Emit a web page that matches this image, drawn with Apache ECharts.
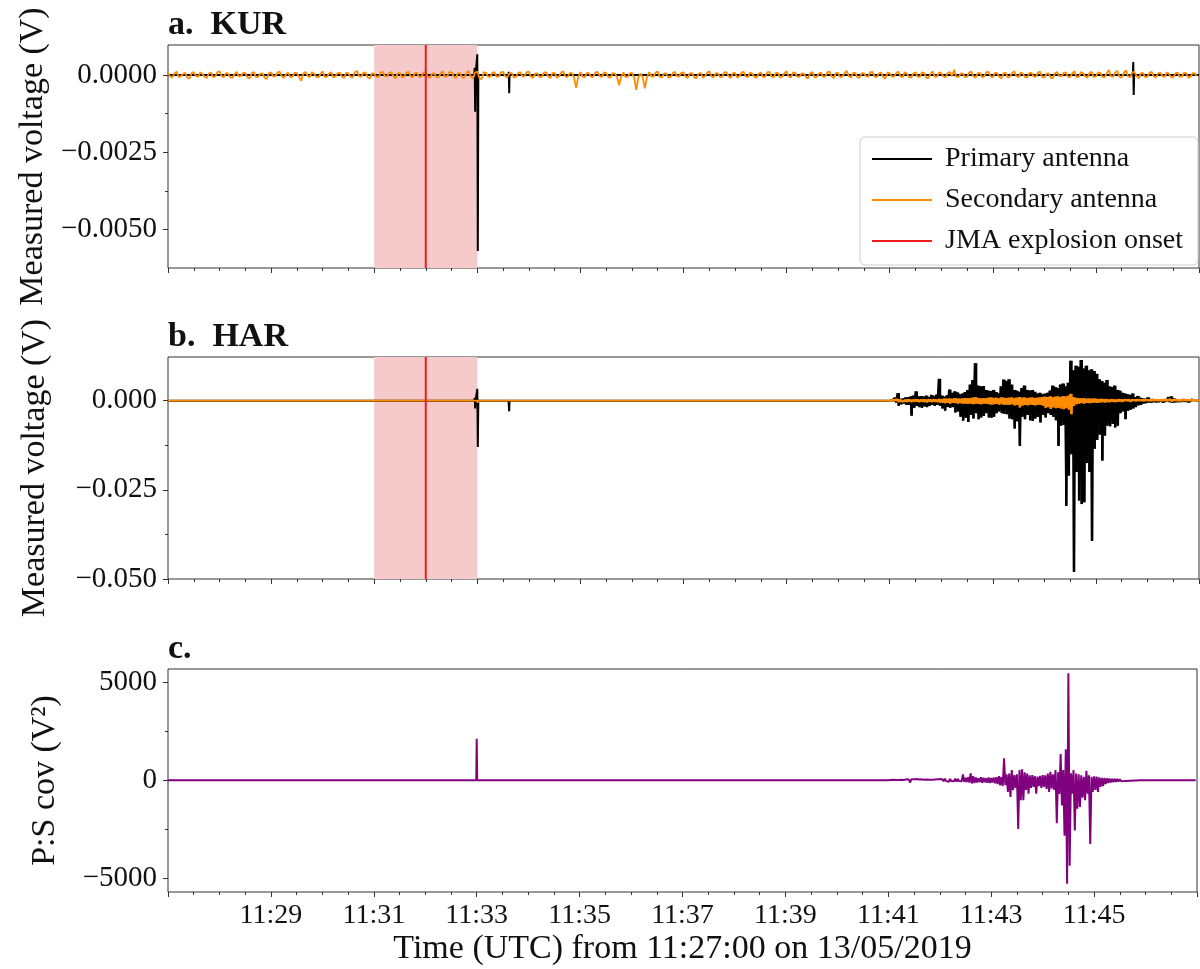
<!DOCTYPE html>
<html><head><meta charset="utf-8">
<script src="https://cdn.jsdelivr.net/npm/echarts@6/dist/echarts.min.js"></script>
<style>html,body{margin:0;padding:0;background:#fff}#c{width:1200px;height:969px}</style>
</head><body><div id="c"></div>
<script>
// ---------- time axis (seconds after 11:27:00) ----------
const xTicks = [120, 240, 360, 480, 600, 720, 840, 960, 1080];
const xTickLabels = ['11:29','11:31','11:33','11:35','11:37','11:39','11:41','11:43','11:45'];
const windowStart = 240, windowEnd = 360, jmaOnset = 300;

// ---------- y ticks ----------
const kurTicks = [0, -0.0025, -0.005];
const kurMinorTicks = [-0.00125, -0.00375];
const harTicks = [0, -0.025, -0.05];
const harMinorTicks = [-0.0125, -0.0375];
const covTicks = [5000, 0, -5000];
const covMinorTicks = [2500, -2500];

// ---------- KUR ----------
const kurPrimary = [[0,0],[356.5,0],[357,0.00023],[357.5,-0.00119],[358,0],[360,0.00067],[360.6,-0.0057],[361.2,0],
  [396.3,0],[396.7,0.0001],[397.1,-0.00059],[397.5,0],[1123,0],[1123.5,0.00042],[1124,-0.00065],[1124.5,0],[1200,0]];
// secondary antenna, microvolts: samples at 5 s steps and the samples half-way between them
const kurSecondaryStep = 5;
const kurSecondaryMicroV = [
 60,-80,110,-40,70,-120,90,-60,30,-100,80,-50,120,-70,40,-90,100,-30,60,-110,
 90,-60,50,-130,80,-40,110,-90,70,-50,60,-190,100,-70,40,-80,120,-60,90,-40,
 70,-100,50,-80,130,-60,80,-110,40,-70,100,-50,90,-120,60,-40,110,-80,70,-60,
 80,-90,50,-70,120,-40,90,-100,60,-80,130,-120,110,-140,70,-60,90,-50,100,-80,
 60,-70,90,-40,110,-90,50,-60,80,-100,70,-50,120,-70,60,-420,90,-80,50,-60,
 100,-70,60,-90,40,-330,80,-60,70,-480,50,-430,90,-60,110,-80,40,-70,100,-50,
 80,-90,60,-110,70,-40,120,-80,50,-60,90,-100,70,-50,110,-70,40,-90,80,-60,
 100,-80,60,-50,120,-90,70,-60,40,-110,90,-70,80,-50,110,-100,60,-40,130,-80,
 70,-90,50,-60,100,-70,80,-120,60,-50,110,-80,40,-90,90,-60,70,-100,120,-50,
 60,-80,90,170,-70,50,-60,110,-90,70,-40,100,-80,60,-110,80,-50,120,-70,40,
 -90,70,-60,110,-80,50,-100,90,-40,80,-70,120,-60,60,-90,100,-50,70,-80,160,
 -60,130,-90,150,-70,90,-110,60,-50,100,-80,70,-60,40,-90,80,-50,60,-70,50];
const kurSecondaryMidMicroV = [
 -40,50,-70,30,-90,60,-30,80,-60,40,-70,90,-40,60,-80,30,-50,70,-90,60,
 -70,40,-90,60,-50,80,-40,30,-80,70,-60,50,-30,90,-60,40,-70,50,-80,60,
 -50,80,-60,90,-40,70,-90,50,-60,80,-40,70,-50,60,-90,80,-40,60,-70,90,
 -60,40,-80,60,-70,90,-50,60,-90,70,-60,80,-100,90,-50,70,-60,80,-40,60,
 -80,60,-50,90,-60,40,-70,80,-40,60,-90,70,-50,60,-80,-60,-50,70,-60,80,
 -40,80,-70,60,-50,-60,-70,50,-80,-90,-80,-70,-40,80,-60,50,-90,60,-40,70,
 -60,50,-80,40,-90,70,-50,60,-70,80,-40,60,-90,70,-50,80,-60,40,-70,90,
 -50,70,-90,60,-40,80,-60,50,-70,60,-80,40,-60,90,-50,70,-80,60,-40,70,
 -80,60,-40,90,-60,50,-70,80,-50,60,-40,90,-70,50,-60,80,-90,40,-60,80,
 -50,70,-40,-60,40,-70,80,-50,60,-80,90,-40,70,-60,50,-90,60,-40,80,-70,
 60,-50,80,-70,40,-90,60,-40,70,-60,50,-80,90,-40,60,-70,80,-60,50,-40,
 80,-60,70,-50,90,-40,60,-80,70,-50,60,-40,80,-70,50,-60,70,-90,60,-40];

// ---------- HAR ----------
const harPrimaryQuiet = [[0,0],[356.5,0],[357,0.0008],[357.5,-0.0022],[358,0],[360,0.0033],[360.6,-0.0130],[361.2,0],
  [396.3,0],[396.7,0.0003],[397.1,-0.0030],[397.5,0],[840,0]];
const harSecondaryQuiet = [[0,0],[359.5,0],[360,0.0004],[360.5,-0.0006],[361,0],[840,0]];
// burst: per 3 s bin maximum / minimum, bins starting at 11:41:00
const burstStart = 840, burstBin = 3;
const harPrimaryMax = [
 0.0002,0.0002,0.0008,0.0021,0.0005,0.0006,0.0009,0.0010,0.0012,0.0014,
 0.0026,0.0012,0.0013,0.0011,0.0014,0.0010,0.0016,0.0013,0.0017,0.0061,
 0.0014,0.0011,0.0015,0.0031,0.0022,0.0026,0.0023,0.0018,0.0020,0.0024,
 0.0030,0.0045,0.0058,0.0105,0.0042,0.0040,0.0041,0.0030,0.0028,0.0027,
 0.0030,0.0024,0.0020,0.0040,0.0059,0.0055,0.0060,0.0045,0.0030,0.0028,
 0.0025,0.0035,0.0042,0.0030,0.0028,0.0030,0.0025,0.0020,0.0022,0.0018,
 0.0020,0.0022,0.0028,0.0042,0.0038,0.0035,0.0045,0.0048,0.0040,0.0050,
 0.0112,0.0085,0.0098,0.0095,0.0114,0.0090,0.0098,0.0085,0.0088,0.0083,
 0.0075,0.0060,0.0055,0.0050,0.0058,0.0040,0.0038,0.0042,0.0030,0.0028,
 0.0022,0.0020,0.0018,0.0016,0.0020,0.0010,0.0013,0.0008,0.0006,0.0005,
 0.0009,0.0004,0.0004,0.0003,0.0003,0.0003,0.0002,0.0004,0.0010,0.0012,
 0.0006,0.0004,0.0003,0.0003,0.0004,0.0003,0.0002,0.0003,0.0002,0.0002];
const harPrimaryMin = [
 -0.0002,-0.0003,-0.0005,-0.0014,-0.0010,-0.0008,-0.0012,-0.0012,-0.0042,-0.0020,
 -0.0015,-0.0018,-0.0020,-0.0016,-0.0018,-0.0015,-0.0012,-0.0015,-0.0012,-0.0014,
 -0.0022,-0.0028,-0.0018,-0.0020,-0.0018,-0.0033,-0.0030,-0.0045,-0.0056,-0.0048,
 -0.0060,-0.0040,-0.0050,-0.0035,-0.0052,-0.0047,-0.0043,-0.0035,-0.0047,-0.0048,
 -0.0045,-0.0035,-0.0030,-0.0035,-0.0037,-0.0038,-0.0050,-0.0052,-0.0078,-0.0058,
 -0.0127,-0.0045,-0.0052,-0.0040,-0.0055,-0.0057,-0.0050,-0.0045,-0.0061,-0.0040,
 -0.0047,-0.0035,-0.0040,-0.0045,-0.0055,-0.0127,-0.0070,-0.0068,-0.0295,-0.0210,
 -0.0150,-0.0480,-0.0200,-0.0280,-0.0290,-0.0285,-0.0175,-0.0200,-0.0393,-0.0135,
 -0.0110,-0.0095,-0.0168,-0.0098,-0.0070,-0.0072,-0.0065,-0.0075,-0.0070,-0.0035,
 -0.0030,-0.0052,-0.0028,-0.0025,-0.0022,-0.0018,-0.0013,-0.0012,-0.0008,-0.0007,
 -0.0005,-0.0006,-0.0004,-0.0005,-0.0004,-0.0003,-0.0004,-0.0003,-0.0004,-0.0006,
 -0.0005,-0.0004,-0.0004,-0.0003,-0.0003,-0.0003,-0.0003,-0.0002,-0.0002,-0.0002];
const harSecondaryMax = [
 0.0003,0.0002,0.0003,0.0004,0.0003,0.0002,0.0003,0.0004,0.0003,0.0003,
 0.0004,0.0003,0.0003,0.0004,0.0003,0.0004,0.0003,0.0004,0.0003,0.0005,
 0.0004,0.0006,0.0005,0.0006,0.0005,0.0007,0.0006,0.0005,0.0006,0.0007,
 0.0006,0.0007,0.0008,0.0010,0.0007,0.0006,0.0007,0.0006,0.0008,0.0009,
 0.0007,0.0008,0.0006,0.0009,0.0008,0.0007,0.0008,0.0009,0.0007,0.0008,
 0.0010,0.0008,0.0009,0.0007,0.0008,0.0009,0.0007,0.0008,0.0009,0.0010,
 0.0011,0.0010,0.0012,0.0009,0.0011,0.0012,0.0010,0.0013,0.0011,0.0014,
 0.0019,0.0010,0.0008,0.0007,0.0006,0.0007,0.0005,0.0006,0.0005,0.0006,
 0.0005,0.0004,0.0005,0.0004,0.0004,0.0003,0.0004,0.0003,0.0003,0.0004,
 0.0003,0.0003,0.0002,0.0003,0.0003,0.0002,0.0003,0.0002,0.0002,0.0003,
 0.0002,0.0002,0.0003,0.0002,0.0002,0.0002,0.0003,0.0002,0.0003,0.0004,
 0.0003,0.0002,0.0002,0.0002,0.0003,0.0002,0.0002,0.0002,0.0002,0.0002];
const harSecondaryMin = [
 -0.0003,-0.0003,-0.0002,-0.0004,-0.0003,-0.0003,-0.0004,-0.0003,-0.0004,-0.0003,
 -0.0003,-0.0004,-0.0003,-0.0004,-0.0005,-0.0003,-0.0004,-0.0003,-0.0004,-0.0005,
 -0.0006,-0.0007,-0.0006,-0.0008,-0.0006,-0.0007,-0.0008,-0.0007,-0.0009,-0.0008,
 -0.0009,-0.0008,-0.0010,-0.0008,-0.0009,-0.0010,-0.0008,-0.0009,-0.0010,-0.0011,
 -0.0010,-0.0009,-0.0011,-0.0010,-0.0012,-0.0011,-0.0012,-0.0010,-0.0013,-0.0012,
 -0.0019,-0.0014,-0.0012,-0.0013,-0.0011,-0.0012,-0.0013,-0.0011,-0.0012,-0.0014,
 -0.0020,-0.0018,-0.0023,-0.0019,-0.0021,-0.0020,-0.0022,-0.0024,-0.0021,-0.0025,
 -0.0038,-0.0015,-0.0010,-0.0008,-0.0007,-0.0008,-0.0006,-0.0007,-0.0006,-0.0005,
 -0.0006,-0.0005,-0.0004,-0.0005,-0.0004,-0.0004,-0.0003,-0.0004,-0.0003,-0.0003,
 -0.0003,-0.0002,-0.0003,-0.0003,-0.0002,-0.0003,-0.0002,-0.0002,-0.0003,-0.0002,
 -0.0002,-0.0003,-0.0002,-0.0002,-0.0002,-0.0003,-0.0002,-0.0003,-0.0002,-0.0003,
 -0.0002,-0.0002,-0.0003,-0.0002,-0.0002,-0.0002,-0.0002,-0.0002,-0.0002,-0.0002];

// ---------- P:S covariance ----------
const covQuiet = [[0,0],[359.5,0],[360,2110],[360.6,0],[396.5,0],[397,50],[397.5,0],[840,0]];
const covMax = [
 10,10,15,10,10,15,10,40,30,50,
 40,60,30,40,20,30,20,25,30,40,
 60,50,70,40,60,50,80,60,50,290,
 120,150,340,200,140,100,150,120,100,140,
 110,130,150,200,160,1117,300,340,515,260,
 300,515,550,400,340,250,260,200,180,220,
 260,240,340,430,300,515,400,1340,515,1580,
 5463,350,515,340,300,250,170,480,250,170,
 200,180,140,120,110,90,80,70,60,60,
 50,40,40,30,30,20,15,10,10,10,
 10,8,10,8,10,8,10,8,10,8,
 10,8,10,8,10,8,10,8,10,8];
const covMin = [
 -10,-10,-10,-15,-10,-10,-10,-40,-120,-50,
 -60,-40,-50,-30,-20,-30,-30,-20,-40,-50,
 -40,-60,-50,-80,-50,-60,-70,-50,-60,-90,
 -100,-120,-170,-150,-120,-100,-140,-110,-130,-150,
 -120,-160,-200,-260,-300,-250,-600,-860,-515,-400,
 -2490,-1030,-1030,-500,-690,-400,-340,-690,-300,-400,
 -340,-450,-600,-430,-500,-2200,-700,-1290,-2835,-5290,
 -4380,-690,-2577,-1460,-1370,-900,-1030,-690,-3264,-600,
 -500,-600,-340,-300,-200,-150,-120,-100,-80,-70,
 -60,-50,-40,-30,-30,-20,-15,-10,-10,-10,
 -10,-8,-10,-8,-10,-8,-10,-8,-10,-8,
 -10,-8,-10,-8,-10,-8,-10,-8,-10,-8];

// ---------- axis extents ----------
const kurRange = [-0.00625, 0.00097];
const harRange = [-0.0500, 0.01223];
const covRange = [-5716, 5680];

// ---------- build tables ----------
function envelope(maxs, mins) {
  const out = [];
  for (let i = 0; i < maxs.length; i++) {
    out.push([burstStart + burstBin * i, maxs[i]]);
    out.push([burstStart + burstBin * i + burstBin / 2, mins[i]]);
  }
  return out;
}
function binTable(maxs, mins) {
  return maxs.map((m, i) => [burstStart + burstBin * i, burstStart + burstBin * (i + 1), mins[i], m]);
}
const kurSecondary = [];
kurSecondaryMicroV.forEach((v, i) => {
  kurSecondary.push([i * kurSecondaryStep, v * 1e-6]);
  kurSecondary.push([i * kurSecondaryStep + kurSecondaryStep / 2, kurSecondaryMidMicroV[i] * 1e-6]);
});
const harPrimary = harPrimaryQuiet.concat(envelope(harPrimaryMax, harPrimaryMin));
const harSecondary = harSecondaryQuiet.concat(envelope(harSecondaryMax, harSecondaryMin));
const cov = covQuiet.concat(envelope(covMax, covMin));

const FONT = "'Liberation Serif', 'DejaVu Serif', serif";
const AX = '#333';
const TXT = '#111';
const minus = s => s.replace('-', '\u2212');

const grids = [
  {left: 168, top: 45, width: 1031, height: 223},
  {left: 168, top: 357, width: 1031, height: 222},
  {left: 168, top: 669, width: 1031, height: 223}
].map(g => Object.assign(g, {show: true, borderColor: AX, borderWidth: 1, backgroundColor: 'transparent'}));

function xAxis(gi, labels) {
  return {
    type: 'value', gridIndex: gi, min: 0, max: 1200, interval: 120,
    axisLine: {show: false, onZero: false},
    axisTick: {show: true, inside: false, length: 5, lineStyle: {color: AX, width: 1}},
    minorTick: {show: true, splitNumber: 4, length: 3, lineStyle: {color: AX, width: 1}},
    splitLine: {show: false}, minorSplitLine: {show: false},
    axisLabel: labels ? {
      show: true, margin: 10, color: TXT, fontFamily: FONT, fontSize: 28,
      formatter: v => { const k = xTicks.indexOf(v); return k >= 0 ? xTickLabels[k] : ''; }
    } : {show: false},
    name: labels ? 'Time (UTC) from 11:27:00 on 13/05/2019' : '',
    nameLocation: 'middle', nameGap: 40,
    nameTextStyle: {color: TXT, fontFamily: FONT, fontSize: 34}
  };
}
function yMain(gi, range, ticks, digits, name, gap) {
  return {
    type: 'value', gridIndex: gi, min: range[0], max: range[1],
    axisLine: {show: false, onZero: false},
    axisTick: {show: true, inside: false, length: 5, customValues: ticks, lineStyle: {color: AX, width: 1}},
    axisLabel: {show: true, customValues: ticks, margin: 11, color: TXT, fontFamily: FONT, fontSize: 29,
      formatter: v => minus(Number(v).toFixed(digits))},
    splitLine: {show: false},
    name: name, nameLocation: 'middle', nameGap: gap,
    nameTextStyle: {color: TXT, fontFamily: FONT, fontSize: 34}
  };
}
function yMinor(gi, range, ticks) {
  return {
    type: 'value', gridIndex: gi, min: range[0], max: range[1], position: 'left',
    axisLine: {show: false, onZero: false},
    axisTick: {show: true, inside: false, length: 3, customValues: ticks, lineStyle: {color: AX, width: 1}},
    axisLabel: {show: false}, splitLine: {show: false}
  };
}
function shade(xi, yi) {
  return {type: 'line', xAxisIndex: xi, yAxisIndex: yi, data: [], z: 1, silent: true,
    markArea: {silent: true, itemStyle: {color: '#f6caca'}, data: [[{xAxis: windowStart}, {xAxis: windowEnd}]]}};
}
function trace(name, xi, yi, data, color, width, z) {
  return {type: 'line', name: name, xAxisIndex: xi, yAxisIndex: yi, data: data, color: color,
    showSymbol: false, symbol: 'none', z: z, silent: true, animation: false,
    lineStyle: {color: color, width: width}, itemStyle: {color: color}};
}
// min/max column per bin (dense waveform rendering)
function binColumns(xi, yi, maxs, mins, color, z) {
  return {
    type: 'custom', xAxisIndex: xi, yAxisIndex: yi, z: z, silent: true, clip: true,
    data: binTable(maxs, mins),
    encode: {x: [0, 1], y: [2, 3]},
    renderItem: (params, api) => {
      const a = api.coord([api.value(0), api.value(3)]);
      const b = api.coord([api.value(1), api.value(2)]);
      return {type: 'rect', shape: {x: a[0], y: a[1], width: b[0] - a[0], height: Math.max(b[1] - a[1], 1.5)},
        style: {fill: color}};
    }
  };
}
const RED = '#ee1c1c';

const option = {
  animation: false,
  backgroundColor: '#ffffff',
  title: [
    {text: 'a.  KUR', left: 168, top: 8, padding: 0, textStyle: {fontFamily: FONT, fontWeight: 'bold', fontSize: 34, color: TXT}},
    {text: 'b.  HAR', left: 168, top: 320, padding: 0, textStyle: {fontFamily: FONT, fontWeight: 'bold', fontSize: 34, color: TXT}},
    {text: 'c.', left: 168, top: 632, padding: 0, textStyle: {fontFamily: FONT, fontWeight: 'bold', fontSize: 34, color: TXT}}
  ],
  legend: {
    data: ['Primary antenna', 'Secondary antenna', 'JMA explosion onset'],
    orient: 'vertical', right: 2, top: 137,
    padding: [7, 15, 9, 12], itemGap: 11, itemWidth: 60, itemHeight: 2, icon: 'rect',
    backgroundColor: 'rgba(255,255,255,0.85)', borderColor: '#cccccc', borderWidth: 1, borderRadius: 5,
    textStyle: {fontFamily: FONT, fontSize: 28, color: TXT, lineHeight: 30, padding: [0, 0, 0, 8]},
    selectedMode: false
  },
  grid: grids,
  xAxis: [xAxis(0, false), xAxis(1, false), xAxis(2, true)],
  yAxis: [
    yMain(0, kurRange, kurTicks, 4, 'Measured voltage (V)', 116), yMinor(0, kurRange, kurMinorTicks),
    yMain(1, harRange, harTicks, 3, 'Measured voltage (V)', 116), yMinor(1, harRange, harMinorTicks),
    yMain(2, covRange, covTicks, 0, 'P:S cov (V\u00B2)', 106), yMinor(2, covRange, covMinorTicks)
  ],
  series: [
    shade(0, 0),
    trace('Primary antenna', 0, 0, kurPrimary, '#000000', 2, 2),
    trace('Secondary antenna', 0, 0, kurSecondary, '#ff8c00', 1.8, 3),
    trace('JMA explosion onset', 0, 0, [[jmaOnset, kurRange[0]], [jmaOnset, kurRange[1]]], RED, 2, 4),
    shade(1, 2),
    trace('Primary antenna', 1, 2, harPrimary, '#000000', 2, 2),
    binColumns(1, 2, harPrimaryMax, harPrimaryMin, '#000000', 2),
    trace('Secondary antenna', 1, 2, harSecondary, '#ff8c00', 1.8, 3),
    binColumns(1, 2, harSecondaryMax, harSecondaryMin, '#ff8c00', 3),
    trace('JMA explosion onset', 1, 2, [[jmaOnset, harRange[0]], [jmaOnset, harRange[1]]], RED, 2, 4),
    trace('P:S cov', 2, 4, cov, '#800080', 2, 2)
  ]
};
const chart = echarts.init(document.getElementById('c'), null, {renderer: 'canvas'});
chart.setOption(option);
</script></body></html>
